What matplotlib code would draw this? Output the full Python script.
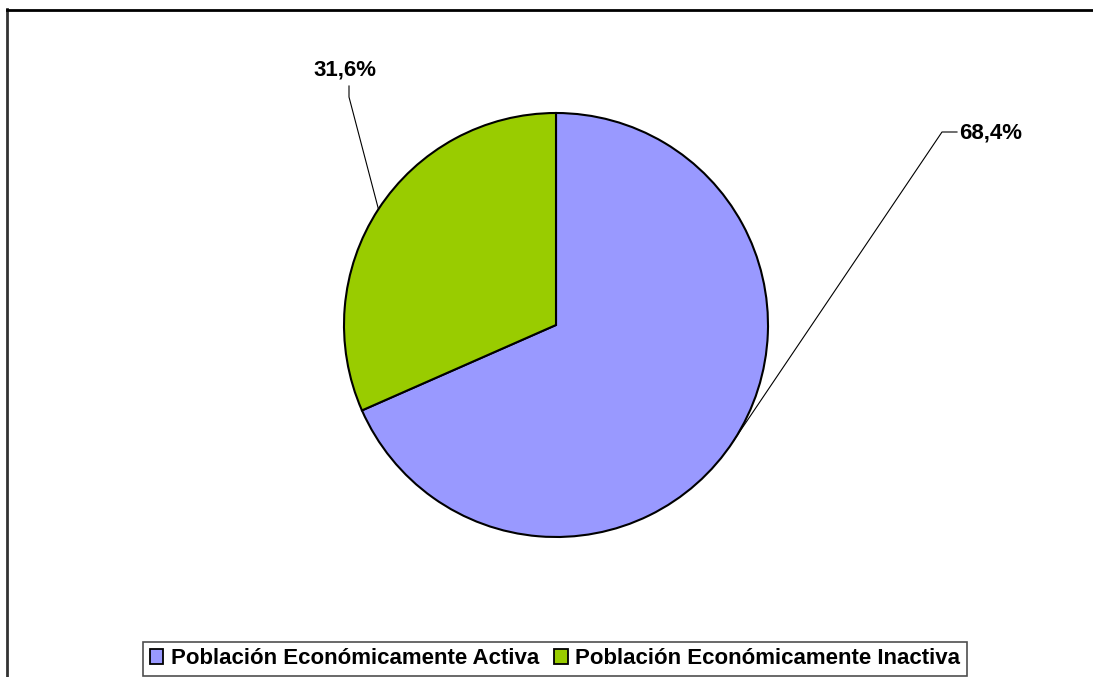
import numpy as np
import matplotlib
matplotlib.use("Agg")
import matplotlib.pyplot as plt
from matplotlib.patches import Patch
from matplotlib.lines import Line2D

categories = ["Población Económicamente Activa", "Población Económicamente Inactiva"]
values = [68.4, 31.6]
labels = ["68,4%", "31,6%"]
colors = ["#9999FF", "#99CC00"]

W, H = 1093, 677
fig = plt.figure(figsize=(W / 100, H / 100), dpi=100)
fig.patch.set_facecolor("white")

cx, cy, r = 556, 325, 212
ax = fig.add_axes([(cx - r) / W, (H - cy - r) / H, 2 * r / W, 2 * r / H])
wedges, _ = ax.pie(values, colors=colors, startangle=90, counterclock=False,
                   radius=1, wedgeprops=dict(edgecolor="black", linewidth=1.5))
ax.set_xlim(-1, 1)
ax.set_ylim(-1, 1)
ax.set_aspect("equal")
ax.axis("off")

font = "Liberation Sans"

for i, w in enumerate(wedges):
    ang = np.deg2rad((w.theta1 + w.theta2) / 2)
    ex, ey = np.cos(ang), np.sin(ang)
    if i == 0:
        elbow = ((942 - cx) / r, (cy - 132) / r)
        end = ((957 - cx) / r, (cy - 132) / r)
        ax.plot([ex, elbow[0], end[0]], [ey, elbow[1], end[1]], color="black",
                lw=0.8, clip_on=False)
        ax.text((959 - cx) / r, (cy - 133) / r, labels[i], ha="left", va="center",
                fontsize=16, fontweight="bold", family=font, clip_on=False)
    else:
        elbow = ((349 - cx) / r, (cy - 97) / r)
        end = ((349 - cx) / r, (cy - 86) / r)
        ax.plot([ex, elbow[0], end[0]], [ey, elbow[1], end[1]], color="black",
                lw=0.8, clip_on=False)
        ax.text((345 - cx) / r, (cy - 70) / r, labels[i], ha="center", va="center",
                fontsize=16, fontweight="bold", family=font, clip_on=False)

# outer frame (left and top edges visible)
fig.add_artist(Line2D([7 / W, 7 / W], [0, 1 - 9 / H], transform=fig.transFigure,
                      color="#333333", lw=2))
fig.add_artist(Line2D([7 / W, 1], [1 - 9.5 / H, 1 - 9.5 / H], transform=fig.transFigure,
                      color="black", lw=2))

handles = [Patch(facecolor=c, edgecolor="black", linewidth=1.3) for c in colors]
leg = fig.legend(handles, categories, loc="center", ncol=2,
                 bbox_to_anchor=(555 / W, 1 - 659 / H),
                 prop=dict(family=font, weight="bold", size=16),
                 frameon=True, fancybox=False, edgecolor="#222222",
                 handlelength=0.62, handleheight=0.62, handletextpad=0.32,
                 columnspacing=0.7, borderpad=0.3, borderaxespad=0)
leg.get_frame().set_linewidth(1.2)

fig.savefig("out.png", dpi=100)
